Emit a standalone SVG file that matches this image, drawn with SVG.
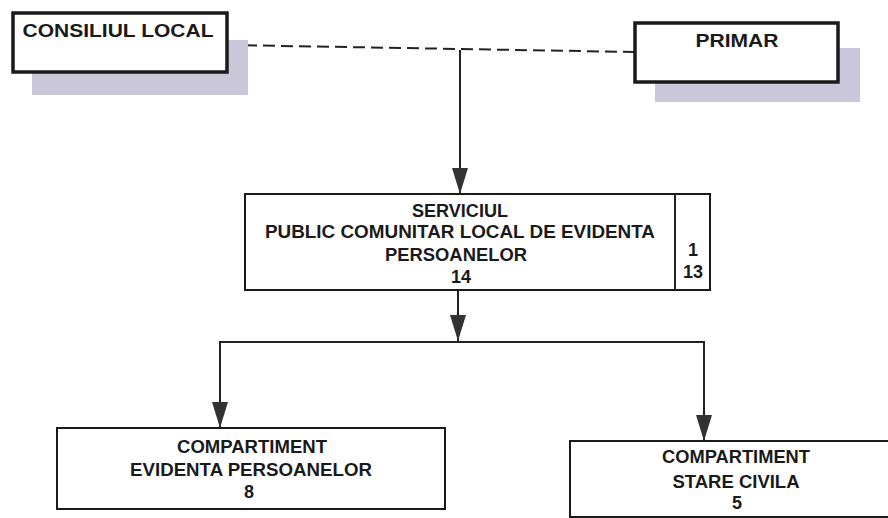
<svg xmlns="http://www.w3.org/2000/svg" width="888" height="518" viewBox="0 0 888 518">
<style>
.t{font-family:"Liberation Sans",Arial,sans-serif;font-weight:bold;fill:#1a1a1a;text-anchor:middle}
.big{font-size:19px}
.mid{font-size:18px}
.box{fill:#fff;stroke:#1a1a1a;stroke-width:2}
.boxb{fill:#fff;stroke:#1a1a1a;stroke-width:3.5}
.sh{fill:#cbc7da}
.c{stroke:#222;stroke-width:2;fill:none}
</style>
<defs>
<marker id="ah" markerUnits="userSpaceOnUse" markerWidth="28" markerHeight="18" refX="26" refY="8" orient="auto">
<path d="M0,0 L26,8 L0,16 z" fill="#333"/>
</marker>
</defs>
<rect width="888" height="518" fill="#fff"/>
<g id="connectors">
<line class="c" x1="227" y1="45" x2="635" y2="52" stroke-dasharray="12,6"/>
<line class="c" x1="460" y1="50" x2="460" y2="194" marker-end="url(#ah)"/>
<line class="c" x1="458" y1="290" x2="458" y2="341" marker-end="url(#ah)"/>
<polyline class="c" points="220,428 220,342 704,342 704,441"/>
<line class="c" x1="220" y1="400" x2="220" y2="428" marker-end="url(#ah)"/>
<line class="c" x1="704" y1="410" x2="704" y2="441" marker-end="url(#ah)"/>
</g>
<g id="consiliul-local">
<rect class="sh" x="32" y="40" width="216" height="55"/>
<rect class="boxb" x="13" y="13" width="214" height="59"/>
<text class="t big" x="118" y="37" textLength="191" lengthAdjust="spacingAndGlyphs">CONSILIUL LOCAL</text>
</g>
<g id="primar">
<rect class="sh" x="655" y="48" width="205" height="54"/>
<rect class="boxb" x="635" y="23" width="203" height="59"/>
<text class="t big" x="737" y="47" textLength="83" lengthAdjust="spacingAndGlyphs">PRIMAR</text>
</g>
<g id="serviciul">
<rect class="box" x="245" y="194" width="465" height="96"/>
<line class="c" x1="675" y1="194" x2="675" y2="290"/>
<text class="t mid" x="460" y="217" textLength="96" lengthAdjust="spacingAndGlyphs">SERVICIUL</text>
<text class="t mid" x="460" y="238" textLength="390" lengthAdjust="spacingAndGlyphs">PUBLIC COMUNITAR LOCAL DE EVIDENTA</text>
<text class="t mid" x="456" y="261" textLength="142" lengthAdjust="spacingAndGlyphs">PERSOANELOR</text>
<text class="t mid" x="461" y="283">14</text>
<text class="t mid" x="693" y="256">1</text>
<text class="t mid" x="693" y="278">13</text>
</g>
<g id="compartiment-evidenta">
<rect class="box" x="57" y="428" width="388" height="81"/>
<text class="t mid" x="252" y="453" textLength="150" lengthAdjust="spacingAndGlyphs">COMPARTIMENT</text>
<text class="t mid" x="251" y="476" textLength="242" lengthAdjust="spacingAndGlyphs">EVIDENTA PERSOANELOR</text>
<text class="t mid" x="249" y="498">8</text>
</g>
<g id="compartiment-stare-civila">
<rect class="box" x="570" y="441" width="330" height="76"/>
<text class="t mid" x="736" y="463" textLength="148" lengthAdjust="spacingAndGlyphs">COMPARTIMENT</text>
<text class="t mid" x="736" y="488" textLength="127" lengthAdjust="spacingAndGlyphs">STARE CIVILA</text>
<text class="t mid" x="737" y="509">5</text>
</g>
</svg>
